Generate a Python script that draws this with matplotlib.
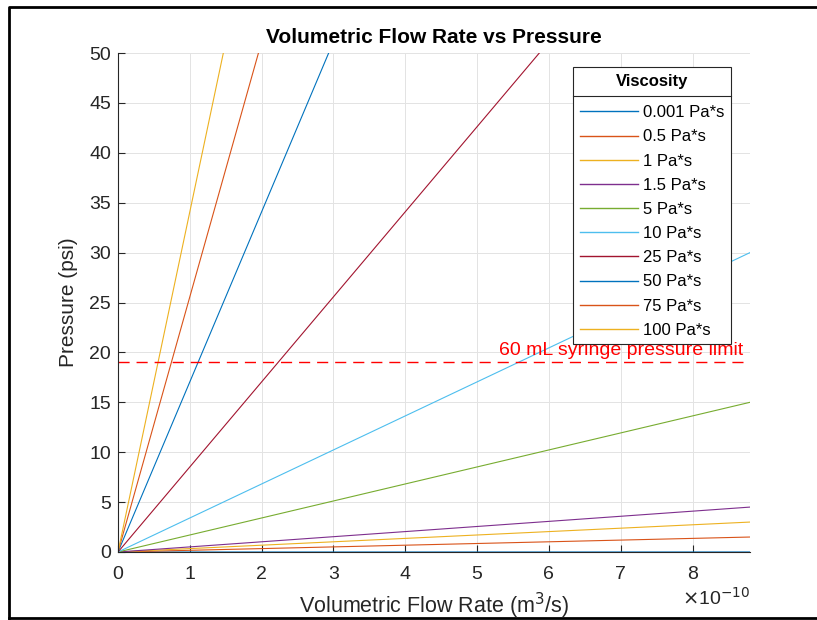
import matplotlib
matplotlib.use("Agg")
import matplotlib.pyplot as plt
from matplotlib.lines import Line2D

plt.rcParams['font.family'] = ['Liberation Sans', 'DejaVu Sans']

# ---- data (flow rate in units of 1e-10 m^3/s) ----
viscosity_labels = ['0.001 Pa*s', '0.5 Pa*s', '1 Pa*s', '1.5 Pa*s', '5 Pa*s',
                    '10 Pa*s', '25 Pa*s', '50 Pa*s', '75 Pa*s', '100 Pa*s']
flow_rate = [0.0, 8.8]
# pressure (psi) at flow_rate[0] and flow_rate[1] for each viscosity
pressure_start = [0, 0, 0, 0, 0, 0, 0, 0, 0, 0]
pressure_end = [0.003, 1.5, 3.0, 4.5, 15.0, 30.0, 75.0, 150.0, 225.0, 300.0]
colors = ['#0072BD', '#D95319', '#EDB120', '#7E2F8E', '#77AC30',
          '#4DBEEE', '#A2142F', '#0072BD', '#D95319', '#EDB120']
limit_psi = 19.0
limit_label = '60 mL syringe pressure limit'
x_ticks = [0, 1, 2, 3, 4, 5, 6, 7, 8]
y_ticks = [0, 5, 10, 15, 20, 25, 30, 35, 40, 45, 50]

fig = plt.figure(figsize=(8.17, 6.2), dpi=100)
ax = fig.add_axes([118/817, 68/620, (750-118)/817, (552-53)/620])

for lab, p0, p1, c in zip(viscosity_labels, pressure_start, pressure_end, colors):
    ax.plot(flow_rate, [p0, p1], color=c, lw=0.8, label=lab, clip_on=True)

ax.axhline(limit_psi, color='#FF0000', lw=1.0, dashes=(8, 5))
ax.text(8.71, limit_psi + 0.3, limit_label, color='#FF0000', fontsize=14,
        ha='right', va='bottom')

ax.set_xlim(0, 8.8)
ax.set_ylim(0, 50)
ax.set_xticks(x_ticks)
ax.set_yticks(y_ticks)
ax.grid(True, color='#e3e3e3', lw=0.7)
ax.set_axisbelow(True)
for s in ['top', 'right']:
    ax.spines[s].set_visible(False)
for s in ['left', 'bottom']:
    ax.spines[s].set_color('#262626')
    ax.spines[s].set_linewidth(0.8)
ax.tick_params(direction='in', length=5, width=0.8, color='#262626',
               labelcolor='#262626', labelsize=14)
ax.tick_params(axis='y', pad=5)
ax.tick_params(axis='x', pad=10)

ax.set_title('Volumetric Flow Rate vs Pressure', fontsize=15, fontweight='bold',
             color='black', pad=7)
ax.set_xlabel('Volumetric Flow Rate (m$^3$/s)', fontsize=15.5, color='#262626',
              labelpad=6)
ax.set_ylabel('Pressure (psi)', fontsize=15, color='#262626', labelpad=8)
ax.text(1.0, -0.07, r'$\times$10$^{-10}$', transform=ax.transAxes, fontsize=14,
        color='#262626', ha='right', va='top')

leg = ax.legend(loc='upper left', bbox_to_anchor=(0.72, 0.972), borderaxespad=0,
                fontsize=12, title='Viscosity', fancybox=False, framealpha=1,
                edgecolor='#262626', handlelength=3.5, handletextpad=0.3,
                labelspacing=0.55, borderpad=0.4)
leg.get_title().set_fontweight('bold')
leg.get_title().set_fontsize(12)
leg.get_frame().set_linewidth(0.8)
leg._legend_box.sep = 12
for h in leg.get_lines():
    h.set_linewidth(1.0)

fig.canvas.draw()
fb = leg.get_frame().get_window_extent()
tb = leg.get_title().get_window_extent()
first = leg.get_texts()[0].get_window_extent()
ysep = (tb.y0 + first.y1) / 2 + 1
inv = fig.transFigure.inverted()
(x0f, yf), (x1f, _) = inv.transform([(fb.x0, ysep), (fb.x1, ysep)])
fig.add_artist(Line2D([x0f, x1f], [yf, yf], color='#262626', lw=0.8))

# outer frame
fig.add_artist(Line2D([9/817, 9/817, 1.01], [2/620, 613/620, 613/620],
                      color='black', lw=2, transform=fig.transFigure))
fig.add_artist(Line2D([9/817, 1.01], [2/620, 2/620],
                      color='black', lw=2, transform=fig.transFigure))

fig.savefig('out.png', dpi=100)
